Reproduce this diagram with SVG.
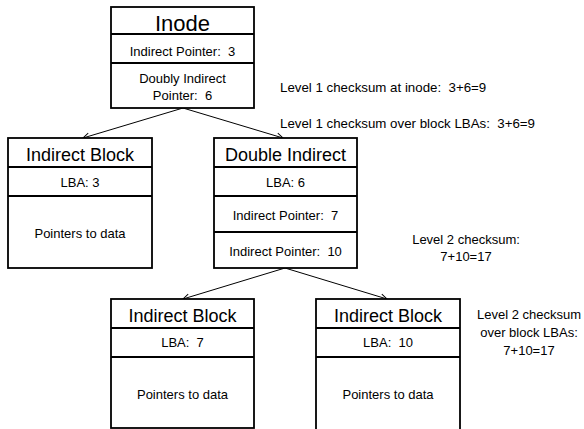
<svg xmlns="http://www.w3.org/2000/svg" width="584" height="429" viewBox="0 0 584 429" xml:space="preserve">
<defs>
<marker id="arr" viewBox="0 0 10 10" refX="9" refY="5" markerWidth="8" markerHeight="8" orient="auto" markerUnits="userSpaceOnUse">
<polyline points="1,1 9,5 1,9" fill="none" stroke="#000" stroke-width="1.2"/>
</marker>
<style>
.box{fill:#fff;stroke:#000;stroke-width:1.8}
.div{stroke:#000;stroke-width:1.8}
text{font-family:"Liberation Sans",Arial,sans-serif;fill:#000;text-anchor:middle;white-space:pre}
.t{font-size:18px}
.ti{font-size:22px}
.s{font-size:13px}
.n{font-size:13.3px;text-anchor:start}
.conn{stroke:#000;stroke-width:1;fill:none;marker-end:url(#arr)}
</style>
</defs>
<g id="connectors">
<line class="conn" x1="183" y1="108" x2="83" y2="138"/>
<line class="conn" x1="183" y1="108" x2="283" y2="138"/>
<line class="conn" x1="285" y1="268" x2="183" y2="299"/>
<line class="conn" x1="285" y1="268" x2="387" y2="299"/>
</g>
<g id="inode">
<rect class="box" x="111" y="7" width="143" height="101"/>
<line class="div" x1="111" y1="34" x2="254" y2="34"/>
<line class="div" x1="111" y1="63" x2="254" y2="63"/>
<text class="ti" x="182.5" y="30.5">Inode</text>
<text class="s" x="182.5" y="55.5">Indirect Pointer:  3</text>
<text class="s" x="182.5" y="83">Doubly Indirect</text>
<text class="s" x="182.5" y="99.5">Pointer:  6</text>
</g>
<g id="indirect-block-left">
<rect class="box" x="8" y="138" width="144" height="130"/>
<line class="div" x1="8" y1="167" x2="152" y2="167"/>
<line class="div" x1="8" y1="196" x2="152" y2="196"/>
<text class="t" x="80" y="161">Indirect Block</text>
<text class="s" x="80" y="187">LBA: 3</text>
<text class="s" x="80" y="238">Pointers to data</text>
</g>
<g id="double-indirect">
<rect class="box" x="214" y="138" width="143" height="130"/>
<line class="div" x1="214" y1="167" x2="357" y2="167"/>
<line class="div" x1="214" y1="196" x2="357" y2="196"/>
<line class="div" x1="214" y1="232" x2="357" y2="232"/>
<text class="t" x="285.5" y="161">Double Indirect</text>
<text class="s" x="285.5" y="187">LBA: 6</text>
<text class="s" x="285.5" y="220">Indirect Pointer:  7</text>
<text class="s" x="285.5" y="256">Indirect Pointer:  10</text>
</g>
<g id="indirect-block-7">
<rect class="box" x="111" y="299" width="143" height="129"/>
<line class="div" x1="111" y1="328" x2="254" y2="328"/>
<line class="div" x1="111" y1="357" x2="254" y2="357"/>
<text class="t" x="182.5" y="322">Indirect Block</text>
<text class="s" x="182.5" y="347">LBA:  7</text>
<text class="s" x="182.5" y="399">Pointers to data</text>
</g>
<g id="indirect-block-10">
<rect class="box" x="316" y="299" width="144" height="133"/>
<line class="div" x1="316" y1="328" x2="460" y2="328"/>
<line class="div" x1="316" y1="357" x2="460" y2="357"/>
<text class="t" x="388" y="322">Indirect Block</text>
<text class="s" x="388" y="347">LBA:  10</text>
<text class="s" x="388" y="399">Pointers to data</text>
</g>
<g id="labels">
<text class="n" x="280" y="91.5">Level 1 checksum at inode:  3+6=9</text>
<text class="n" x="280" y="127.5">Level 1 checksum over block LBAs:  3+6=9</text>
<text class="s" x="466" y="243.5">Level 2 checksum:</text>
<text class="s" x="466" y="260.5">7+10=17</text>
<text class="s" x="529" y="319">Level 2 checksum</text>
<text class="s" x="529" y="337">over block LBAs:</text>
<text class="s" x="529" y="355">7+10=17</text>
</g>
</svg>
